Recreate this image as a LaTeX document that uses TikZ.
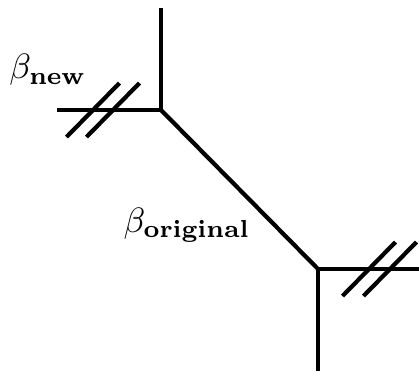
\documentclass[tikz,border=0pt]{standalone}
\usepackage{amsmath}
\usepackage{amssymb}
\usepackage{tikz}
\usetikzlibrary{positioning,calc}

\tikzset{
  edge/.style={line width=1.2pt},
  cut/.style={line width=1.2pt}
}

\begin{document}
\begin{tikzpicture}
      \useasboundingbox (0,0) rectangle (4.19,3.71);
      % vertices
      \coordinate (U) at (1.61,2.61);
      \coordinate (V) at (3.18,1.02);
      \coordinate (Utop) at (1.61,3.63);
      \coordinate (Uleft) at (0.57,2.61);
      \coordinate (Vbot) at (3.18,0.00);
      \coordinate (Vright) at (4.19,1.02);
      % external legs
      \draw[edge] (Uleft) -- (U) -- (Utop);
      \draw[edge] (U) -- (V);
      \draw[edge] (Vbot) -- (V) -- (Vright);
      % cut marks
      \coordinate (c1) at (0.93,2.61);
      \coordinate (c2) at (1.13,2.61);
      \coordinate (c3) at (3.69,1.02);
      \coordinate (c4) at (3.90,1.02);
      \foreach \c in {c1,c2,c3,c4}
        \draw[cut] ([shift={(-0.265,-0.27)}]\c) -- ([shift={(0.265,0.27)}]\c);
      % labels
      \node (Lnew) at (0.48,3.01) {$\beta_{\mathbf{new}}$};
      \node (Lorig) at (1.87,1.46) {$\beta_{\mathbf{original}}$};
\end{tikzpicture}
\end{document}
